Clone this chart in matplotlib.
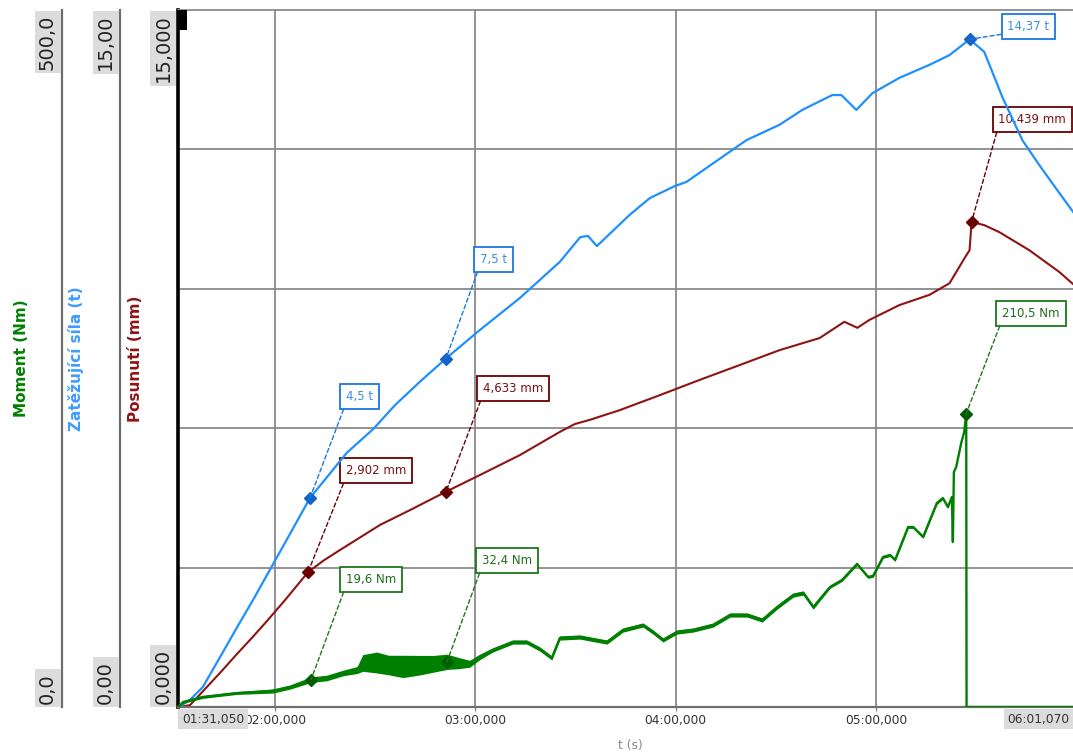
import numpy as np
import matplotlib
matplotlib.use("Agg")
import matplotlib.pyplot as plt
from matplotlib.patches import Rectangle

# ---------------- data ----------------
t_start, t_end = 91.05, 361.07          # s
disp_lim = (0.0, 15.0)                  # mm
force_lim = (0.0, 15.0)                 # t
moment_lim = (0.0, 500.0)               # Nm
grid_times = [120, 180, 240, 300]       # s
disp_grid = [3, 6, 9, 12]

# Zatěžující síla (t)
force_t = [91.05, 94.5, 98.4, 104.4, 108.6, 113.4, 121.5, 130.5, 141.5,
           149.4, 156.0, 163.4, 171.2, 181.3, 193.3, 205.3, 211.4, 213.7, 216.4,
           226.2, 232.2, 239.7, 243.2, 257.0, 261.2, 271.1, 277.9, 286.9, 289.6,
           294.1, 298.9, 307.0, 316.0, 322.0, 325.9, 328.0, 332.4, 337.8, 343.8,
           348.9, 354.9, 361.07]
force_val = [0.00, 0.15, 0.43, 1.18, 1.71, 2.30, 3.34, 4.5, 5.47,
             5.98, 6.50, 7.00, 7.5, 8.11, 8.80, 9.58, 10.11, 10.14, 9.92,
             10.59, 10.95, 11.21, 11.30, 11.99, 12.20, 12.53, 12.85, 13.17, 13.17,
             12.85, 13.21, 13.54, 13.82, 14.03, 14.25, 14.37, 14.10, 13.13, 12.20,
             11.66, 11.06, 10.45]

# Posunutí (mm)
disp_t = [91.05, 94.55, 98.44, 104.0, 108.6, 113.0, 117.6, 123.0, 129.9, 134.5,
          139.5, 145.5, 151.5, 160.5, 171.2, 181.3, 193.3, 205.3, 209.8, 214.3,
          223.3, 235.2, 247.2, 259.2, 271.1, 283.1, 290.5, 294.4, 298.0, 307.0,
          316.0, 322.0, 326.5, 328.0, 328.6, 332.4, 336.9, 345.9, 354.9, 361.07]
disp_val = [0.0, 0.04, 0.34, 0.77, 1.14, 1.48, 1.85, 2.30, 2.902, 3.15,
            3.38, 3.65, 3.92, 4.24, 4.633, 4.99, 5.42, 5.92, 6.09, 6.18,
            6.39, 6.71, 7.04, 7.36, 7.68, 7.94, 8.29, 8.16, 8.33, 8.65,
            8.87, 9.12, 9.66, 9.83, 10.439, 10.37, 10.22, 9.83, 9.36, 8.97]

# Moment (Nm) with peak-to-peak spread of the measured signal
moment_t = [91.05, 92.5, 98.4, 108.6, 119.4, 124.5, 130.8, 135.5, 140.4, 144.6,
            146.3, 150.5, 154.0, 158.3, 163.4, 167.5, 171.5, 175.0, 178.3, 181.3,
            185.2, 191.2, 195.4, 199.3, 202.9, 205.3, 211.3, 219.4, 224.2, 230.2,
            233.2, 236.2, 240.4, 245.2, 251.2, 256.3, 261.4, 265.9, 270.4, 275.2,
            278.2, 281.2, 286.2, 289.8, 294.3, 297.6, 299.1, 302.1, 304.2, 305.7,
            309.6, 311.1, 314.1, 318.2, 320.0, 321.5, 322.7, 323.0, 323.3, 324.0,
            325.5, 326.4, 327.0, 327.1, 361.07]
moment_val = [0.0, 3.6, 7.2, 10.0, 11.5, 14.3, 19.6, 20.8, 24.4, 26.5,
              31.6, 31.9, 30.1, 29.1, 30.0, 31.0, 32.4, 31.5, 31.0, 35.9,
              40.9, 46.6, 46.6, 41.6, 35.2, 49.5, 50.2, 46.6, 55.2, 58.8,
              53.8, 48.1, 53.8, 55.2, 58.8, 66.0, 66.0, 62.4, 71.7, 80.3,
              81.8, 71.7, 86.1, 91.1, 102.6, 93.3, 94.0, 107.6, 109.0, 105.5,
              129.1, 129.1, 122.0, 146.3, 149.9, 143.5, 150.6, 118.4, 168.6, 172.2,
              189.4, 197.3, 210.5, 0.0, 0.0]
moment_spread = [1, 2, 2, 2, 3, 3, 4, 4, 4, 5,
                 12, 15, 14, 16, 14, 12, 11, 8, 5, 4,
                 3, 3, 3, 3, 3, 3, 3, 3, 3, 3,
                 3, 3, 3, 3, 3, 3, 3, 3, 3, 3,
                 3, 3, 2, 2, 2, 2, 2, 2, 2, 2,
                 2, 2, 2, 2, 2, 2, 0, 0, 0, 0,
                 0, 0, 0, 0, 0]

# cursor readouts
force_mark_t = [130.5, 171.2, 328.0]
force_mark_val = [4.5, 7.5, 14.37]
disp_mark_t = [129.9, 171.2, 328.6]
disp_mark_val = [2.902, 4.633, 10.439]
moment_mark_t = [130.8, 171.5, 327.0]
moment_mark_val = [19.6, 32.4, 210.5]

# ---------------- styling ----------------
W, H = 1073, 754
BLUE, BLUE_DARK, BLUE_TXT = "#1e90ff", "#1464c8", "#3a8ee6"
RED, RED_DARK, RED_TXT = "#8e1414", "#6a0000", "#7a1010"
GREEN, GREEN_DARK, GREEN_TXT = "#008000", "#005c00", "#1f6e1f"
GRID = "#8a8a8a"
SPINE = "#6e6e6e"
BOXGRAY = "#dcdcdc"

plt.rcParams["font.family"] = ["DejaVu Sans"]


def fx(px):
    return px / W


def fy(py):
    return 1 - py / H


def fmt_time(sec, _pos=None):
    minutes = int(sec // 60)
    s = int(sec % 60)
    ms = int(round((sec % 1) * 1000)) % 1000
    return f"{minutes:02d}:{s:02d},{ms:03d}"


def fmt_num(v, dec):
    return f"{v:.{dec}f}".replace(".", ",")


fig = plt.figure(figsize=(W / 100, H / 100), dpi=100)
fig.patch.set_facecolor("white")

left_px, right_px, top_px, bottom_px = 178.3, 1080.0, 10.0, 707.0
ax = fig.add_axes([fx(left_px), fy(bottom_px), (right_px - left_px) / W,
                   (bottom_px - top_px) / H])
ax.set_xlim(t_start, t_end)
ax.set_ylim(*disp_lim)
ax_f = ax.twinx()
ax_f.set_ylim(*force_lim)
ax_m = ax.twinx()
ax_m.set_ylim(*moment_lim)

axw = right_px - left_px

# grid and main frame
ax.set_axisbelow(True)
ax.set_xticks(grid_times)
ax.xaxis.set_major_formatter(plt.FuncFormatter(fmt_time))
ax.set_yticks(disp_grid)
ax.grid(True, color=GRID, lw=1.3)
ax.tick_params(axis="y", left=False, labelleft=False, right=False, labelright=False)
ax.tick_params(axis="x", length=3, width=1, color=GRID, pad=2,
               labelsize=8.8, labelcolor="#333333")
ax.spines["left"].set_color("black")
ax.spines["left"].set_linewidth(2.6)
ax.spines["bottom"].set_color(SPINE)
ax.spines["bottom"].set_linewidth(1.6)
ax.spines["top"].set_color(GRID)
ax.spines["top"].set_linewidth(1.3)
ax.spines["right"].set_visible(False)

for a, pos in ((ax_f, left_px - 120.0), (ax_m, left_px - 62.0)):
    for s in ("top", "right", "bottom"):
        a.spines[s].set_visible(False)
    a.spines["left"].set_visible(True)
    a.spines["left"].set_position(("axes", -pos / axw))
    a.spines["left"].set_color(SPINE)
    a.spines["left"].set_linewidth(1.6)
    a.tick_params(axis="y", left=False, right=False, labelleft=False,
                  labelright=False)

# axis titles
label_kw = dict(fontsize=11, fontweight="bold")
ax.set_ylabel("Posunutí (mm)", color=RED, **label_kw)
ax.yaxis.set_label_coords((142.5 - left_px) / axw, 0.5)
ax_f.yaxis.set_label_position("left")
ax_f.set_ylabel("Zatěžující síla (t)", color="#3d9cff", **label_kw)
ax_f.yaxis.set_label_coords((84.5 - left_px) / axw, 0.5)
ax_m.yaxis.set_label_position("left")
ax_m.set_ylabel("Moment (Nm)", color=GREEN, **label_kw)
ax_m.yaxis.set_label_coords((29.5 - left_px) / axw, 0.5)

# series
ax.plot(disp_t, disp_val, color=RED, lw=1.5, zorder=2)
ax_f.plot(force_t, force_val, color=BLUE, lw=1.6, zorder=2)
mv = np.asarray(moment_val, dtype=float)
ms = np.asarray(moment_spread, dtype=float)
ax_m.fill_between(moment_t, mv - ms / 2, mv + ms / 2, color=GREEN, lw=0, zorder=2)
ax_m.plot(moment_t, moment_val, color=GREEN, lw=1.7, zorder=2)

# cursor readouts
pad_frac = 0.5
fs_ann = 8.5
pad_px = pad_frac * fs_ann * 100 / 72


def readouts(a, ts, vals, unit, col_line, col_mark, col_txt, offsets):
    a.plot(ts, vals, ls="none", marker="D", ms=6.5, color=col_mark, zorder=4)
    for t, v, (dx, dy) in zip(ts, vals, offsets):
        a.annotate(f"{str(v).replace('.', ',')} {unit}", xy=(t, v),
                   xytext=(dx + pad_px, dy + pad_px), textcoords="offset pixels",
                   ha="left", va="bottom", fontsize=fs_ann, color=col_txt,
                   zorder=6, annotation_clip=False,
                   bbox=dict(boxstyle=f"square,pad={pad_frac}", fc="white",
                             ec=col_line, lw=1.3),
                   arrowprops=dict(arrowstyle="-", color=col_line, lw=1.0,
                                   ls=(0, (3, 2)), relpos=(0, 0),
                                   shrinkA=0, shrinkB=0))


readouts(ax_f, force_mark_t, force_mark_val, "t", "#1a78e0", BLUE_DARK, BLUE_TXT,
         [(30, 89), (28, 87), (32, 0)])
readouts(ax, disp_mark_t, disp_mark_val, "mm", RED_DARK, RED_DARK, RED_TXT,
         [(32, 89), (31, 91), (21, 90)])
readouts(ax_m, moment_mark_t, moment_mark_val, "Nm", "#1a7a1a", GREEN_DARK,
         GREEN_TXT, [(29, 88), (29, 89), (30, 88)])

# range labels at the ends of each vertical scale
fs_rng = 14
rng_pad = 0.18
rng_pad_px = rng_pad * fs_rng * 100 / 72
rng_box = dict(boxstyle=f"square,pad={rng_pad}", fc=BOXGRAY, ec="none")
for spine_px, lim, dec in ((176.0, disp_lim, 3), (118.5, force_lim, 2),
                           (60.5, moment_lim, 1)):
    fig.text(fx(spine_px - rng_pad_px), fy(top_px + rng_pad_px + 1),
             fmt_num(lim[1], dec), rotation=90, ha="right", va="top",
             fontsize=fs_rng, color="#222222", bbox=rng_box)
    fig.text(fx(spine_px - rng_pad_px), fy(bottom_px - rng_pad_px),
             fmt_num(lim[0], dec), rotation=90, ha="right", va="bottom",
             fontsize=fs_rng, color="#222222", bbox=rng_box)

# time range labels
end_box = dict(boxstyle="square,pad=0.3", fc=BOXGRAY, ec="none")
end_pad = 0.3 * 8.8 * 100 / 72
fig.text(fx(left_px + end_pad), fy(709 + end_pad), fmt_time(t_start),
         ha="left", va="top", fontsize=8.8, color="#333333", bbox=end_box)
fig.text(fx(W - end_pad), fy(709 + end_pad), fmt_time(t_end),
         ha="right", va="top", fontsize=8.8, color="#333333", bbox=end_box)
fig.text(fx(630), fy(745), "t (s)", ha="center", va="center", fontsize=8.8,
         color="#8a8a8a")

# cursor handle in the top-left corner
fig.add_artist(Rectangle((fx(177), fy(30)), 10 / W, 20 / H, transform=fig.transFigure,
                         fc="black", ec="none", zorder=10))

fig.savefig("out.png", dpi=100)
